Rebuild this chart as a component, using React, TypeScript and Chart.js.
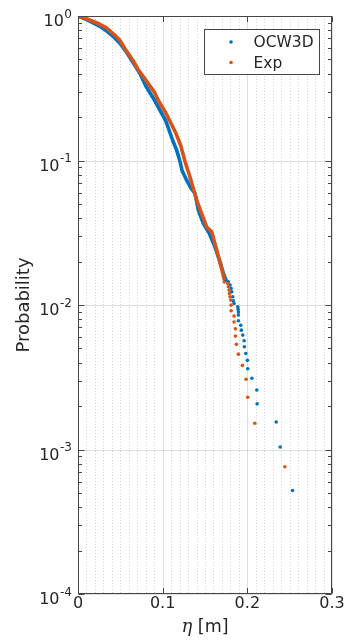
import React, { useEffect, useRef } from 'react';
import { Chart, registerables } from 'chart.js';

Chart.register(...registerables);

// ---- data ----
const seriesNames = ['OCW3D', 'Exp'];

// dense (continuous-looking) part of the exceedance curves
const ocwDenseEta = [0, 0.0079, 0.0174, 0.0257, 0.0336, 0.0414, 0.0494, 0.0573, 0.0648, 0.073, 0.0801, 0.0904, 0.1037, 0.112, 0.1165, 0.1204, 0.1228, 0.1283, 0.1334, 0.1382, 0.1421, 0.148, 0.155, 0.1618, 0.1678, 0.1717, 0.1749];
const ocwDenseProb = [1, 0.957, 0.898, 0.849, 0.79, 0.724, 0.648, 0.561, 0.478, 0.402, 0.328, 0.261, 0.188, 0.137, 0.118, 0.0989, 0.0857, 0.0731, 0.0643, 0.0591, 0.0453, 0.0367, 0.0314, 0.0252, 0.0198, 0.0166, 0.01486];

const expDenseEta = [0, 0.0085, 0.019, 0.0257, 0.0332, 0.043, 0.0494, 0.0569, 0.0648, 0.0706, 0.0805, 0.0904, 0.0947, 0.1038, 0.1151, 0.1215, 0.1263, 0.1322, 0.1402, 0.1458, 0.152, 0.1579, 0.1638, 0.17, 0.1725];
const expDenseProb = [1, 0.964, 0.913, 0.877, 0.83, 0.741, 0.679, 0.576, 0.494, 0.43, 0.357, 0.296, 0.261, 0.213, 0.157, 0.126, 0.0989, 0.0771, 0.0531, 0.0432, 0.0347, 0.0321, 0.024, 0.0175, 0.0152];

// sparse tail points
const ocwTailEta = [0.1776, 0.1796, 0.1808, 0.1816, 0.1828, 0.1835, 0.1843, 0.1887, 0.1891, 0.1894, 0.1894, 0.1894, 0.1922, 0.193, 0.1946, 0.1962, 0.1965, 0.1982, 0.2001, 0.2005, 0.2053, 0.2112, 0.2116, 0.2341, 0.2388, 0.2534];
const ocwTailProb = [0.01446, 0.01374, 0.01303, 0.01233, 0.0114, 0.01069, 0.01026, 0.00972, 0.00933, 0.00893, 0.00852, 0.00778, 0.00723, 0.0067, 0.00619, 0.00566, 0.00514, 0.00462, 0.00414, 0.00362, 0.00311, 0.00258, 0.00207, 0.00155, 0.00104, 0.00052];

const expTailEta = [0.1728, 0.1769, 0.1776, 0.1784, 0.1788, 0.1796, 0.1804, 0.1808, 0.1808, 0.1843, 0.1843, 0.1859, 0.1859, 0.1871, 0.1894, 0.1942, 0.1985, 0.2005, 0.2088, 0.2443];
const expTailProb = [0.01446, 0.0141, 0.01336, 0.01268, 0.01203, 0.0114, 0.01081, 0.00998, 0.00912, 0.00838, 0.00762, 0.00684, 0.00609, 0.00534, 0.00457, 0.00382, 0.00306, 0.0023, 0.00152, 0.00076];

// axes
const xMin = 0;
const xMax = 0.3;
const xTickValues = [0, 0.1, 0.2, 0.3];
const xTickLabels = ['0', '0.1', '0.2', '0.3'];
const xMinorStep = 0.01;
const yMin = 1e-4;
const yMax = 1;
const yTickExponents = [0, -1, -2, -3, -4];
const yMinorMultipliers = [2, 3, 4, 5, 6, 7, 8, 9];
const xTitleSymbol = 'η';
const xTitleUnit = ' [m]';
const yTitle = 'Probability';

const BLUE = '#0072BD';
const ORANGE = '#D95319';
const TEXT = '#262626';
const AXIS = 'rgb(70,70,70)';

const toPts = (xs: number[], ys: number[]) => xs.map((x, i) => ({ x, y: ys[i] }));

const matlabAxes = {
  id: 'matlabAxes',
  beforeDatasetsDraw(chart: any) {
    const { ctx, chartArea: a, scales } = chart;
    const xs = scales.x;
    const ys = scales.y;
    ctx.save();
    // minor grid (dotted, x only)
    ctx.strokeStyle = 'rgba(38,38,38,0.2)';
    ctx.lineWidth = 1;
    ctx.setLineDash([1, 2]);
    const nMinor = Math.round((xMax - xMin) / xMinorStep);
    for (let i = 1; i < nMinor; i++) {
      if (i % 10 === 0) continue;
      const px = Math.round(xs.getPixelForValue(xMin + i * xMinorStep)) + 0.5;
      ctx.beginPath();
      ctx.moveTo(px, a.top);
      ctx.lineTo(px, a.bottom);
      ctx.stroke();
    }
    // major grid
    ctx.setLineDash([]);
    ctx.strokeStyle = 'rgba(38,38,38,0.15)';
    for (const v of xTickValues) {
      const px = Math.round(xs.getPixelForValue(v)) + 0.5;
      ctx.beginPath();
      ctx.moveTo(px, a.top);
      ctx.lineTo(px, a.bottom);
      ctx.stroke();
    }
    for (const e of yTickExponents) {
      const py = Math.round(ys.getPixelForValue(Math.pow(10, e))) + 0.5;
      ctx.beginPath();
      ctx.moveTo(a.left, py);
      ctx.lineTo(a.right, py);
      ctx.stroke();
    }
    ctx.restore();
  },
  afterDraw(chart: any) {
    const { ctx, chartArea: a, scales } = chart;
    const xs = scales.x;
    const ys = scales.y;
    ctx.save();
    const L = Math.round(a.left) + 0.5;
    const R = Math.round(a.right) - 0.5;
    const T = Math.round(a.top) + 0.5;
    const B = Math.round(a.bottom) - 0.5;
    ctx.strokeStyle = AXIS;
    ctx.lineWidth = 1;
    ctx.strokeRect(L, T, R - L, B - T);
    // x ticks (top & bottom, inward)
    for (const v of xTickValues) {
      const px = Math.round(xs.getPixelForValue(v)) + 0.5;
      ctx.beginPath();
      ctx.moveTo(px, B);
      ctx.lineTo(px, B - 5.5);
      ctx.moveTo(px, T);
      ctx.lineTo(px, T + 5.5);
      ctx.stroke();
    }
    // y ticks (left & right, inward)
    for (const e of yTickExponents) {
      const py = Math.round(ys.getPixelForValue(Math.pow(10, e))) + 0.5;
      ctx.beginPath();
      ctx.moveTo(L, py);
      ctx.lineTo(L + 6, py);
      ctx.moveTo(R, py);
      ctx.lineTo(R - 6, py);
      ctx.stroke();
    }
    for (let e = -4; e < 0; e++) {
      for (const m of yMinorMultipliers) {
        const py = Math.round(ys.getPixelForValue(m * Math.pow(10, e))) + 0.5;
        ctx.beginPath();
        ctx.moveTo(L, py);
        ctx.lineTo(L + 3.5, py);
        ctx.moveTo(R, py);
        ctx.lineTo(R - 3.5, py);
        ctx.stroke();
      }
    }
    // x tick labels
    ctx.fillStyle = TEXT;
    ctx.font = '16px "DejaVu Sans"';
    ctx.textAlign = 'center';
    ctx.textBaseline = 'alphabetic';
    xTickValues.forEach((v, i) => {
      ctx.fillText(xTickLabels[i], xs.getPixelForValue(v), a.bottom + 14);
    });
    // y tick labels 10^e
    ctx.textAlign = 'left';
    for (const e of yTickExponents) {
      const py = ys.getPixelForValue(Math.pow(10, e));
      const ex = String(e);
      ctx.font = '12px "DejaVu Sans"';
      const wExp = ctx.measureText(ex).width;
      ctx.font = '16px "DejaVu Sans"';
      const wBase = ctx.measureText('10').width;
      const right = a.left - 6;
      const x0 = right - wExp - wBase - 0.5;
      ctx.fillText('10', x0, py + 10);
      ctx.font = '12px "DejaVu Sans"';
      ctx.fillText(ex, x0 + wBase + 0.5, py + 1.5);
    }
    // x title
    ctx.font = 'italic 18px "DejaVu Serif"';
    const wSym = ctx.measureText(xTitleSymbol).width;
    ctx.font = '17.5px "DejaVu Sans"';
    const wUnit = ctx.measureText(xTitleUnit).width;
    const cx = (a.left + a.right) / 2;
    const sx = cx - (wSym + wUnit) / 2;
    ctx.font = 'italic 18px "DejaVu Serif"';
    ctx.fillText(xTitleSymbol, sx, a.bottom + 38);
    ctx.font = '17.5px "DejaVu Sans"';
    ctx.fillText(xTitleUnit, sx + wSym, a.bottom + 38);
    // y title
    ctx.save();
    ctx.translate(29, (a.top + a.bottom) / 2);
    ctx.rotate(-Math.PI / 2);
    ctx.textAlign = 'center';
    ctx.font = '18px "DejaVu Sans"';
    ctx.fillText(yTitle, 0, 0);
    ctx.restore();
    // legend
    const bx = Math.round(a.right - 128) + 0.5;
    const by = Math.round(a.top + 13) + 0.5;
    const bw = 115;
    const bh = 45;
    ctx.fillStyle = '#ffffff';
    ctx.fillRect(bx, by, bw, bh);
    ctx.strokeStyle = AXIS;
    ctx.strokeRect(bx, by, bw, bh);
    const colors = [BLUE, ORANGE];
    ctx.font = '15.5px "DejaVu Sans"';
    ctx.textBaseline = 'middle';
    ctx.textAlign = 'left';
    seriesNames.forEach((name, i) => {
      const ly = by + 12.5 + i * 20.5;
      ctx.fillStyle = colors[i];
      ctx.beginPath();
      ctx.arc(bx + 26.5, ly, 1.8, 0, Math.PI * 2);
      ctx.fill();
      ctx.fillStyle = TEXT;
      ctx.fillText(name, bx + 49, ly + 1);
    });
    ctx.restore();
  },
};

export default function App() {
  const canvasRef = useRef<HTMLCanvasElement | null>(null);

  useEffect(() => {
    if (!canvasRef.current) return;
    const chart = new Chart(canvasRef.current, {
      type: 'scatter',
      data: {
        datasets: [
          {
            label: seriesNames[0],
            data: toPts(ocwTailEta, ocwTailProb),
            backgroundColor: BLUE,
            borderWidth: 0,
            pointRadius: 1.8,
            showLine: false,
            order: 3,
          },
          {
            label: seriesNames[1],
            data: toPts(expTailEta, expTailProb),
            backgroundColor: ORANGE,
            borderWidth: 0,
            pointRadius: 1.8,
            showLine: false,
            order: 2,
          },
          {
            label: seriesNames[0] + ' (dense)',
            data: toPts(ocwDenseEta, ocwDenseProb),
            borderColor: BLUE,
            borderWidth: 3.6,
            pointRadius: 0,
            showLine: true,
            tension: 0,
            borderJoinStyle: 'round',
            borderCapStyle: 'round',
            order: 1,
          },
          {
            label: seriesNames[1] + ' (dense)',
            data: toPts(expDenseEta, expDenseProb),
            borderColor: ORANGE,
            borderWidth: 3.6,
            pointRadius: 0,
            showLine: true,
            tension: 0,
            borderJoinStyle: 'round',
            borderCapStyle: 'round',
            order: 0,
          },
        ] as any,
      },
      options: {
        animation: false,
        responsive: false,
        devicePixelRatio: 1,
        layout: { padding: { left: 78, top: 16, right: 12, bottom: 47 } },
        plugins: { legend: { display: false }, tooltip: { enabled: false } },
        events: [],
        scales: {
          x: { type: 'linear', min: xMin, max: xMax, display: false },
          y: { type: 'logarithmic', min: yMin, max: yMax, display: false },
        },
      },
      plugins: [matlabAxes],
    });
    return () => chart.destroy();
  }, []);

  return (
    <div style={{ position: 'absolute', left: 0, top: 0, width: 344, height: 641, background: '#fff' }}>
      <canvas ref={canvasRef} width={344} height={641} style={{ display: 'block', width: 344, height: 641 }} />
    </div>
  );
}
